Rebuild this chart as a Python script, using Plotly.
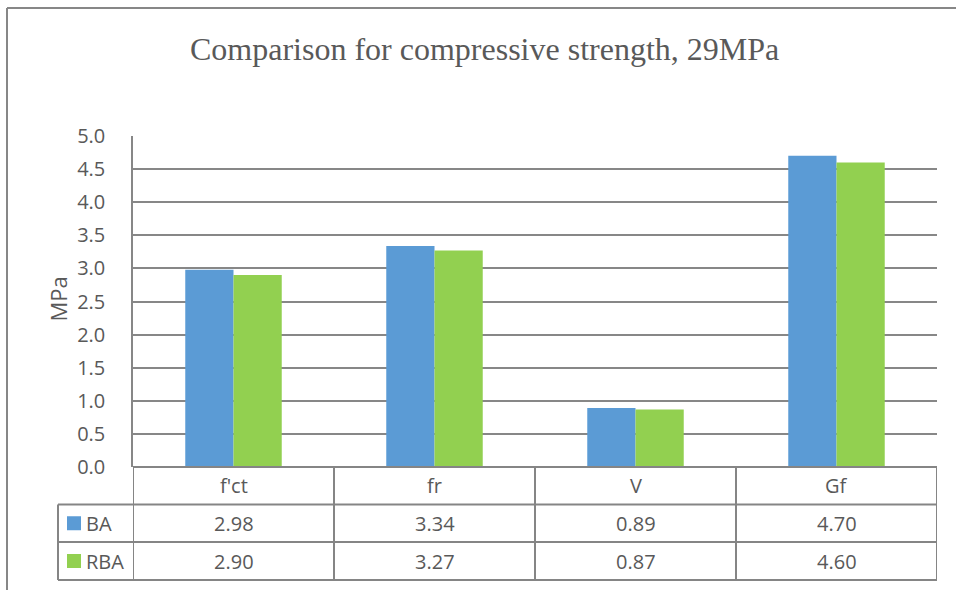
import plotly.graph_objects as go

# Data
categories = ["f'ct", "fr", "V", "Gf"]
series_names = ["BA", "RBA"]
ba_values = [2.98, 3.34, 0.89, 4.70]
rba_values = [2.90, 3.27, 0.87, 4.60]
y_ticks = [0.0, 0.5, 1.0, 1.5, 2.0, 2.5, 3.0, 3.5, 4.0, 4.5, 5.0]

W, H = 956, 590
BLUE = "#5B9BD5"
GREEN = "#92D050"
TEXT = "#595959"
GRID = "#878787"
TABLE_LINE = "#858585"
SANS = "Open Sans"
FS = 20


def px(x):
    return x / W


def py(y):
    return 1 - y / H


# plot area / table geometry in pixels
plot_left, plot_right = 133, 937
plot_top, plot_bottom = 136, 467
table_left = 58
row_lines = [plot_bottom, 504.5, 542, 580]

fig = go.Figure()
fig.add_trace(go.Bar(x=categories, y=ba_values, name=series_names[0],
                     marker=dict(color=BLUE, line=dict(width=0))))
fig.add_trace(go.Bar(x=categories, y=rba_values, name=series_names[1],
                     marker=dict(color=GREEN, line=dict(width=0))))

shapes = []
# outer chart frame (left and top edges)
shapes.append(dict(type="line", xref="paper", yref="paper",
                   x0=px(7), x1=px(7), y0=py(8), y1=py(H),
                   line=dict(color=GRID, width=2)))
shapes.append(dict(type="line", xref="paper", yref="paper",
                   x0=px(7), x1=px(W), y0=py(8), y1=py(8),
                   line=dict(color=GRID, width=2)))

# data table: horizontal rules
for i, yl in enumerate(row_lines):
    x0 = px(plot_left) if i == 0 else px(table_left)
    shapes.append(dict(type="line", xref="paper", yref="paper",
                       x0=x0, x1=px(plot_right), y0=py(yl), y1=py(yl),
                       line=dict(color=TABLE_LINE, width=2)))
# data table: column rules aligned with category boundaries
for k in range(len(categories) + 1):
    shapes.append(dict(type="line", xref="x", yref="paper",
                       x0=k - 0.5, x1=k - 0.5,
                       y0=py(row_lines[0]), y1=py(row_lines[-1]),
                       line=dict(color=TABLE_LINE, width=2)))
shapes.append(dict(type="line", xref="paper", yref="paper",
                   x0=px(table_left), x1=px(table_left),
                   y0=py(row_lines[1]), y1=py(row_lines[-1]),
                   line=dict(color=TABLE_LINE, width=2)))

annotations = []
# legend keys in the table
for name, color, r in zip(series_names, [BLUE, GREEN], [1, 2]):
    yc = (row_lines[r] + row_lines[r + 1]) / 2
    shapes.append(dict(type="rect", xref="paper", yref="paper",
                       x0=px(67), x1=px(81), y0=py(yc + 7), y1=py(yc - 7),
                       fillcolor=color, line=dict(width=0)))
    annotations.append(dict(text=name, xref="paper", yref="paper",
                            x=px(84), y=py(yc), xanchor="left", yanchor="middle",
                            showarrow=False, font=dict(family=SANS, size=FS, color=TEXT)))

# header row: category names
yc_head = (row_lines[0] + row_lines[1]) / 2
for c in categories:
    annotations.append(dict(text=c, xref="x", yref="paper", x=c, y=py(yc_head),
                            xanchor="center", yanchor="middle", showarrow=False,
                            font=dict(family=SANS, size=FS, color=TEXT)))
# value rows
for r, vals in zip([1, 2], [ba_values, rba_values]):
    yc = (row_lines[r] + row_lines[r + 1]) / 2
    for c, v in zip(categories, vals):
        annotations.append(dict(text=f"{v:.2f}", xref="x", yref="paper", x=c, y=py(yc),
                                xanchor="center", yanchor="middle", showarrow=False,
                                font=dict(family=SANS, size=FS, color=TEXT)))

# chart title
annotations.append(dict(text="Comparison for compressive strength, 29MPa",
                        xref="paper", yref="paper", x=px(484.5), y=py(49),
                        xanchor="center", yanchor="middle", showarrow=False,
                        font=dict(family="Liberation Serif", size=32, color=TEXT)))
# value axis title
annotations.append(dict(text="MPa", xref="paper", yref="paper", x=px(57.5), y=py(299),
                        xanchor="center", yanchor="middle", textangle=-90, showarrow=False,
                        font=dict(family=SANS, size=22, color=TEXT)))

fig.update_layout(
    template="none",
    width=W, height=H, autosize=False,
    margin=dict(l=0, r=0, t=0, b=0, pad=0, autoexpand=False),
    paper_bgcolor="white", plot_bgcolor="white",
    barmode="group", bargap=0.52, bargroupgap=0,
    showlegend=False,
    shapes=shapes, annotations=annotations,
    xaxis=dict(domain=[px(plot_left), px(plot_right)], type="category",
               range=[-0.5, len(categories) - 0.5], automargin=False,
               showticklabels=False, showgrid=False, showline=False,
               zeroline=False, fixedrange=True),
    yaxis=dict(domain=[py(plot_bottom), py(plot_top)], range=[0, 5], automargin=False,
               tickvals=y_ticks, ticktext=[f"{t:.1f}" for t in y_ticks],
               showgrid=True, gridcolor=GRID, gridwidth=1.5,
               showline=True, linecolor=GRID, linewidth=1.5,
               zeroline=False, ticks="", ticklabelstandoff=22,
               tickfont=dict(family=SANS, size=FS, color=TEXT), fixedrange=True),
)

fig.write_html("out.html")
